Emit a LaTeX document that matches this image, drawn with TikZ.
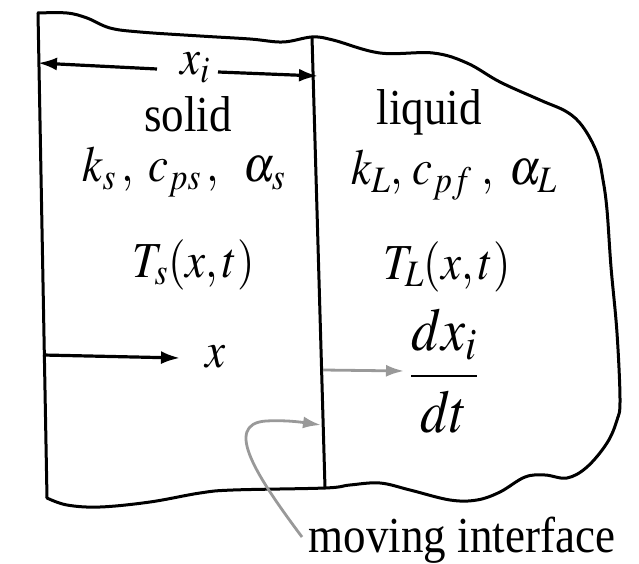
\documentclass[tikz,border=0pt]{standalone}
\usepackage{mathptmx}
\usepackage{fontspec}
\setmainfont{Liberation Serif}
\usetikzlibrary{arrows.meta}
\newcommand\stretchtxt[1]{\scalebox{1}[1.12]{#1}}
\begin{document}
\begin{tikzpicture}[x=1pt,y=-1pt,
  edge/.style={line width=3pt, line join=round, line cap=round},
  blackarrow/.style={line width=3.2pt,-{Latex[length=19pt,width=13pt]}},
  grayarrow/.style={line width=2.8pt,draw=gray!80,-{Latex[length=18pt,width=12pt,fill=gray!80]}},
  lab/.style={anchor=base, inner sep=0pt, font=\fontsize{45}{54}\selectfont}]
\useasboundingbox (0,0) rectangle (639,564);
% corners
\coordinate (TL) at (38,13);
\coordinate (BL) at (47,498);
\coordinate (IT) at (312,37);
\coordinate (IB) at (325,488);
% outline
\draw[edge] (TL) -- (BL);
\draw[edge] plot[smooth, tension=0.6] coordinates {(38,13) (67,13) (87,18) (110,28) (140,32) (200,36) (250,39) (283,42) (312,37) (333,40) (380,53) (433,53) (467,63) (500,82) (540,100) (567,112) (583,127) (597,153) (603,180) (607,210) (611,267) (617,333) (620,400) (617,420) (607,443) (587,467) (567,478) (545,475) (525,477) (500,492) (477,500) (450,500) (410,490) (380,483) (350,485) (325,488) (233,490) (200,493) (150,502) (100,507) (67,505) (47,498)};
\draw[edge] (IT) -- (IB);
% labels
\node[lab] (xi) at (195,75) {\stretchtxt{$x_i$}};
\node[lab] (solid) at (188,132) {\stretchtxt{solid}};
\node[lab] (ks) at (184,182) {\stretchtxt{$k_s\,,\; c_{ps}\,,\;\;\alpha_s$}};
\node[lab] (Ts) at (194,277) {\stretchtxt{$T_s(x,t)$}};
\node[lab] (xl) at (216,367) {\stretchtxt{$x$}};
\node[lab] (liquid) at (429,125) {\stretchtxt{liquid}};
\node[lab] (kL) at (454,185) {\stretchtxt{$k_L,\, c_{pf}\;,\;\alpha_L$}};
\node[lab] (TL2) at (447,279) {\stretchtxt{$T_L(x,t)$}};
\node[lab, font=\fontsize{54}{60}\selectfont] (frac) at (444,391) {\stretchtxt{$\displaystyle\frac{dx_i}{dt}$}};
\node[lab] (mi) at (462,552) {\stretchtxt{moving interface}};
% arrow end points
\coordinate (xiA) at (157,69);
\coordinate (xiAtip) at (38,63);
\coordinate (xiB) at (218,72);
\coordinate (xiBtip) at (318,76);
\coordinate (xA) at (43,355);
\coordinate (xAtip) at (180,358);
\coordinate (vA) at (323,370);
\coordinate (vAtip) at (404,371);
\coordinate (mA) at (302,537);
\coordinate (mAtip) at (321,425);
% arrows
\draw[blackarrow] (xiA) -- (xiAtip);
\draw[blackarrow] (xiB) -- (xiBtip);
\draw[blackarrow] (xA) -- (xAtip);
\draw[grayarrow] (vA) -- (vAtip);
\draw[grayarrow] (mA) .. controls (258,478) and (222,424) .. (266,421) .. controls (285,420) and (300,422) .. (mAtip);
\end{tikzpicture}
\end{document}
